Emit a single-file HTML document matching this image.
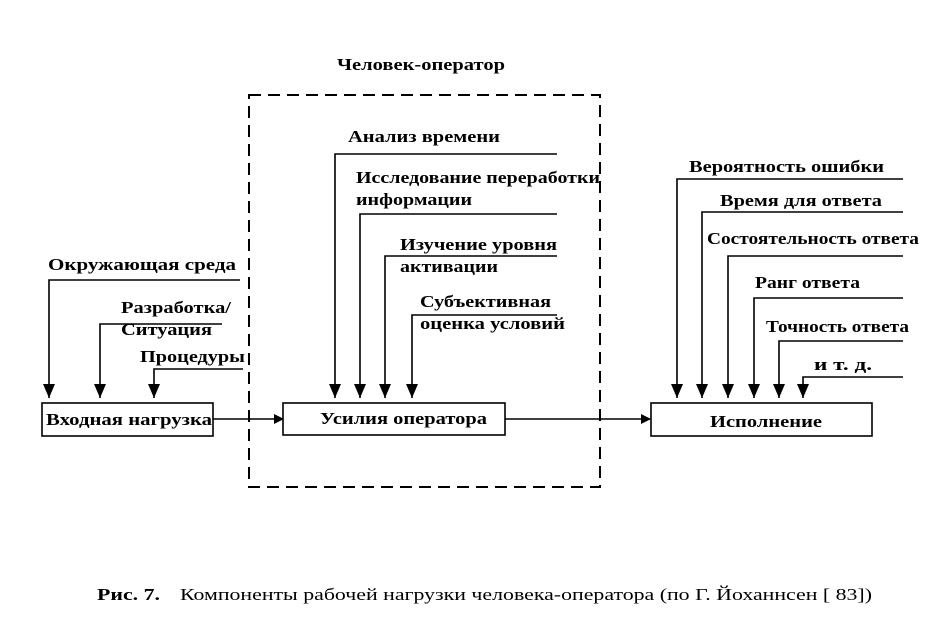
<!DOCTYPE html>
<html><head><meta charset="utf-8"><style>body{margin:0;background:#fff}svg{display:block}text{font-family:"Liberation Serif","DejaVu Serif",serif;font-size:17px;fill:#000}</style></head><body>
<svg width="928" height="632" viewBox="0 0 928 632" xmlns="http://www.w3.org/2000/svg">
<defs><marker id="a" markerWidth="10" markerHeight="10" refX="9" refY="5" orient="auto" markerUnits="userSpaceOnUse"><path d="M0,0 L10,5 L0,10 z"/></marker>
<marker id="d" viewBox="0 0 12 14" markerWidth="12" markerHeight="14" refX="6" refY="14" orient="0" markerUnits="userSpaceOnUse"><path d="M0,0 L12,0 L6,14 z"/></marker></defs>
<g font-weight="bold">
<text x="337" y="70" textLength="168" lengthAdjust="spacingAndGlyphs">Человек-оператор</text>
</g>
<rect x="249" y="95" width="351" height="392" fill="none" stroke="#000" stroke-width="2" stroke-dasharray="12,7"/>
<g fill="none" stroke="#000" stroke-width="1.6">
<rect x="42" y="403" width="171" height="33"/>
<rect x="283" y="403" width="222" height="32"/>
<rect x="651" y="403" width="221" height="33"/>
<path d="M240,280 H49 V398" marker-end="url(#d)"/>
<path d="M222,324 H100 V398" marker-end="url(#d)"/>
<path d="M243,369 H154 V398" marker-end="url(#d)"/>
<path d="M557,154 H335 V398" marker-end="url(#d)"/>
<path d="M557,214 H360 V398" marker-end="url(#d)"/>
<path d="M557,256 H385 V398" marker-end="url(#d)"/>
<path d="M557,315 H412 V398" marker-end="url(#d)"/>
<path d="M903,179 H677 V398" marker-end="url(#d)"/>
<path d="M903,212 H702 V398" marker-end="url(#d)"/>
<path d="M903,256 H728 V398" marker-end="url(#d)"/>
<path d="M903,298 H754 V398" marker-end="url(#d)"/>
<path d="M903,341 H779 V398" marker-end="url(#d)"/>
<path d="M903,377 H803 V398" marker-end="url(#d)"/>
<path d="M213,419 H283" marker-end="url(#a)"/>
<path d="M505,419 H650" marker-end="url(#a)"/>
</g>
<g font-weight="bold">
<text x="48" y="270" textLength="188" lengthAdjust="spacingAndGlyphs">Окружающая среда</text>
<text x="121" y="313" textLength="110" lengthAdjust="spacingAndGlyphs">Разработка/</text>
<text x="121" y="335" textLength="91" lengthAdjust="spacingAndGlyphs">Ситуация</text>
<text x="140" y="362" textLength="105" lengthAdjust="spacingAndGlyphs">Процедуры</text>
<text x="46" y="425" textLength="166" lengthAdjust="spacingAndGlyphs">Входная нагрузка</text>
<text x="348" y="142" textLength="152" lengthAdjust="spacingAndGlyphs">Анализ времени</text>
<text x="356" y="183" textLength="244" lengthAdjust="spacingAndGlyphs">Исследование переработки</text>
<text x="356" y="205" textLength="116" lengthAdjust="spacingAndGlyphs">информации</text>
<text x="400" y="250" textLength="157" lengthAdjust="spacingAndGlyphs">Изучение уровня</text>
<text x="400" y="272" textLength="98" lengthAdjust="spacingAndGlyphs">активации</text>
<text x="420" y="307" textLength="131" lengthAdjust="spacingAndGlyphs">Субъективная</text>
<text x="420" y="329" textLength="145" lengthAdjust="spacingAndGlyphs">оценка условий</text>
<text x="320" y="424" textLength="167" lengthAdjust="spacingAndGlyphs">Усилия оператора</text>
<text x="689" y="172" textLength="195" lengthAdjust="spacingAndGlyphs">Вероятность ошибки</text>
<text x="720" y="206" textLength="162" lengthAdjust="spacingAndGlyphs">Время для ответа</text>
<text x="707" y="244" textLength="212" lengthAdjust="spacingAndGlyphs">Состоятельность ответа</text>
<text x="755" y="288" textLength="105" lengthAdjust="spacingAndGlyphs">Ранг ответа</text>
<text x="766" y="332" textLength="143" lengthAdjust="spacingAndGlyphs">Точность ответа</text>
<text x="814" y="370" textLength="58" lengthAdjust="spacingAndGlyphs">и т. д.</text>
<text x="710" y="427" textLength="112" lengthAdjust="spacingAndGlyphs">Исполнение</text>
<text x="97" y="600" textLength="63" lengthAdjust="spacingAndGlyphs">Рис. 7.</text>
</g>
<text x="180" y="600" textLength="692" lengthAdjust="spacingAndGlyphs">Компоненты рабочей нагрузки человека-оператора (по Г. Йоханнсен [ 83])</text>
</svg>
</body></html>
